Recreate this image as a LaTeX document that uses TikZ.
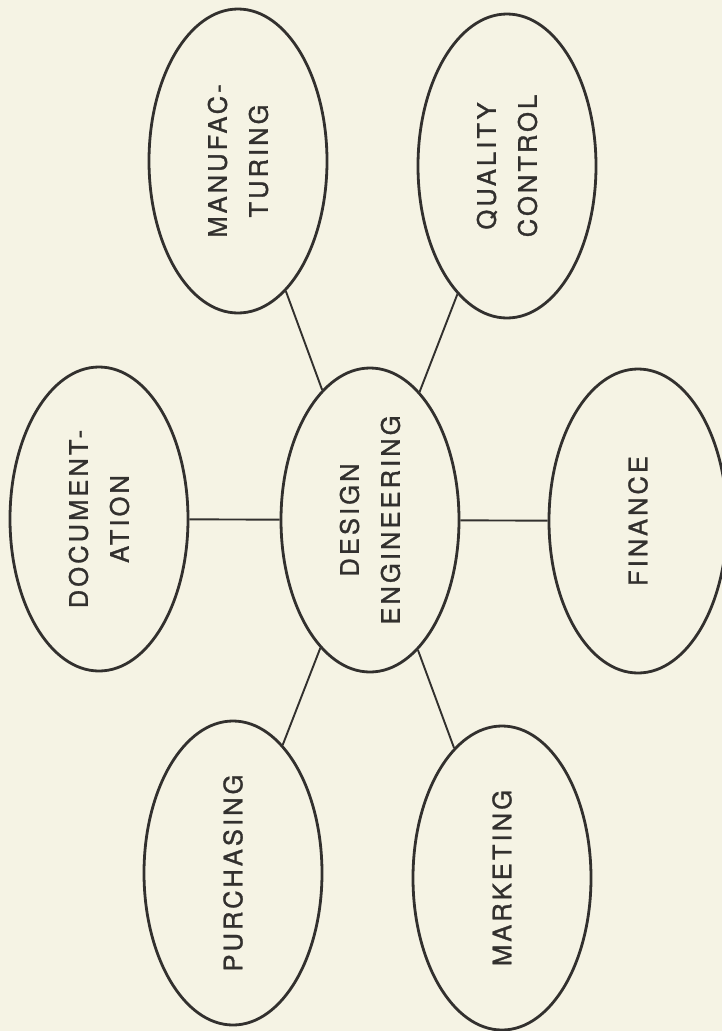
\documentclass[tikz,border=0pt]{standalone}
\usepackage{fontspec}
\setmainfont{TeX Gyre Heros}[LetterSpace=12,FakeBold=1.2]
\usetikzlibrary{shapes.geometric}
\definecolor{paper}{RGB}{245,243,228}
\definecolor{ink}{RGB}{50,48,46}
\tikzset{
  dept/.style={ellipse, draw=ink, line width=2.8pt, rotate=90, inner sep=0pt,
    minimum width=304pt, minimum height=178pt, align=center, text=ink,
    font=\fontsize{25.5pt}{41pt}\selectfont},
  link/.style={draw=ink, line width=1.9pt}
}
\begin{document}
\begin{tikzpicture}[x=1pt,y=1pt]
\fill[paper] (0,0) rectangle (722,-1031);
\useasboundingbox (0,0) rectangle (722,-1031);
\node[dept] (man) at (238,-161) {MANUFAC-\\TURING};
\node[dept] (qc) at (507,-166) {QUALITY\\CONTROL};
\node[dept] (doc) at (99,-519) {DOCUMENT-\\ATION};
\node[dept] (de) at (370,-520) {DESIGN\\ENGINEERING};
\node[dept] (fin) at (638,-521) {FINANCE};
\node[dept] (pur) at (233,-873) {PURCHASING};
\node[dept] (mkt) at (502,-878) {MARKETING};
\draw[link] (man) -- (de);
\draw[link] (qc) -- (de);
\draw[link] (doc) -- (de);
\draw[link] (de) -- (fin);
\draw[link] (de) -- (pur);
\draw[link] (de) -- (mkt);
\end{tikzpicture}
\end{document}
